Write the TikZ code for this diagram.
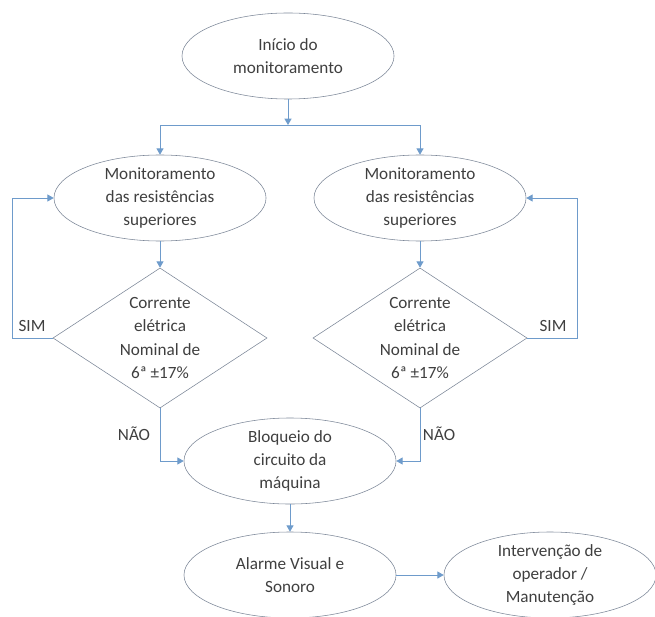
\documentclass[tikz,border=0pt]{standalone}
\usepackage{fontspec}
\setmainfont{Carlito}
\usepackage{tikz}
\usetikzlibrary{arrows.meta, shapes.geometric}
\definecolor{flowline}{HTML}{6E9BCB}
\definecolor{shapeline}{HTML}{7C8798}
\definecolor{txtgray}{HTML}{3F3F3F}

\begin{document}
\begin{tikzpicture}[x=0.025cm,y=-0.025cm,
  term/.style={draw=shapeline,ellipse,minimum width=5.3cm,
    minimum height=2.15cm,inner xsep=0pt,inner ysep=-3pt,align=center,
    font=\fontsize{12.2}{16.4}\selectfont,text=txtgray},
  decision/.style={draw=shapeline,diamond,aspect=1.5,minimum width=5.35cm,
    minimum height=3.5cm,inner sep=-6pt,align=center,
    font=\fontsize{12.2}{16.4}\selectfont,text=txtgray},
  lbl/.style={font=\fontsize{12.2}{16.4}\selectfont,text=txtgray},
  flow/.style={draw=flowline,line width=0.7pt,
    -{Triangle[width=5pt,length=4.5pt]}}]
  \useasboundingbox (0,0) rectangle (655,616);
  \node[term] (Ini)    at (288,56)  {Início do\\monitoramento};
  \coordinate (split)  at (288,125);
  \node[term] (MonL)   at (160,198) {Monitoramento\\das resistências\\superiores};
  \node[term] (MonR)   at (420,198) {Monitoramento\\das resistências\\superiores};
  \node[decision] (DecL) at (160,338) {Corrente\\elétrica\\Nominal de\\6ª ±17\%};
  \node[decision] (DecR) at (420,338) {Corrente\\elétrica\\Nominal de\\6ª ±17\%};
  \node[term] (Bloq)   at (290,461) {Bloqueio do\\circuito da\\máquina};
  \node[term] (Alarm)  at (290,575) {Alarme Visual e\\Sonoro};
  \node[term] (Interv) at (550,575) {Intervenção de\\operador /\\Manutenção};
  \node[lbl] (simL) at (32,326)  {SIM};
  \node[lbl] (simR) at (553,326) {SIM};
  \node[lbl] (naoL) at (134,434) {NÃO};
  \node[lbl] (naoR) at (439,434) {NÃO};
  \draw[flow] (Ini) -- (split);
  \draw[flow] (split) -| (MonL);
  \draw[flow] (split) -| (MonR);
  \draw[flow] (MonL) -- (DecL);
  \draw[flow] (MonR) -- (DecR);
  \draw[flow] (DecL.west) -- ++(-40,0) |- (MonL.west);
  \draw[flow] (DecR.east) -- ++(50,0) |- (MonR.east);
  \draw[flow] (DecL.south) |- (Bloq.west);
  \draw[flow] (DecR.south) |- (Bloq.east);
  \draw[flow] (Bloq) -- (Alarm);
  \draw[flow] (Alarm) -- (Interv);
\end{tikzpicture}
\end{document}
